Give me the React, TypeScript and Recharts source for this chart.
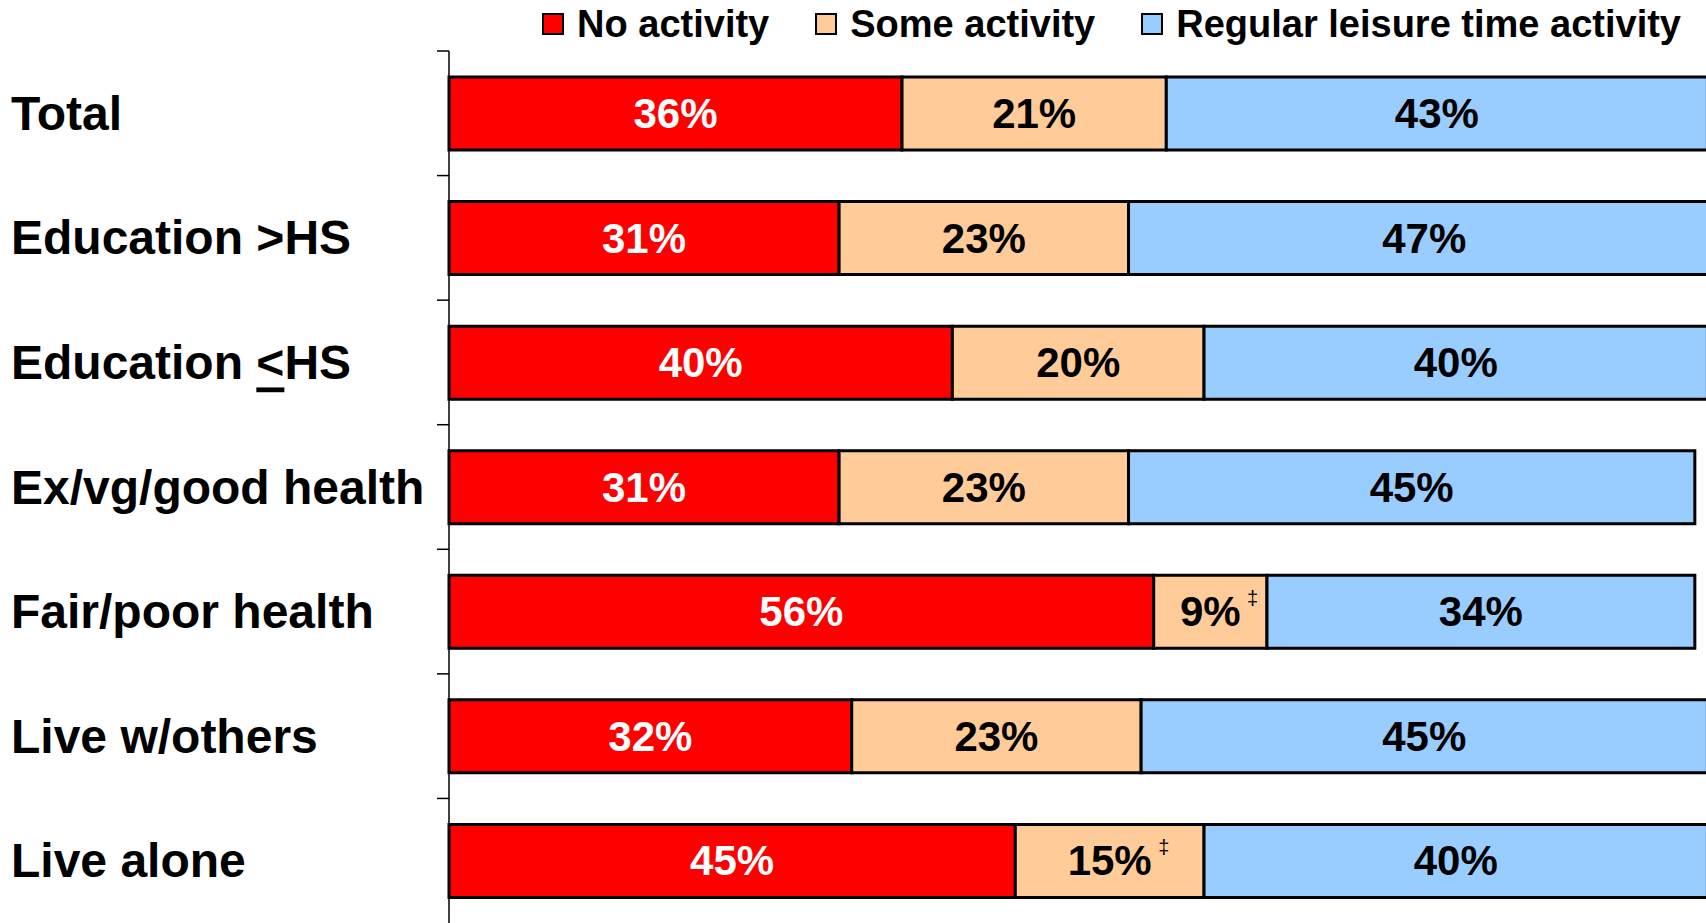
import React from "react"
import { BarChart, Bar, XAxis, YAxis, Legend, LabelList } from "recharts"

const categories = [
  "Total",
  "Education >HS",
  "Education ≤HS",
  "Ex/vg/good health",
  "Fair/poor health",
  "Live w/others",
  "Live alone",
]
const noActivity = [36, 31, 40, 31, 56, 32, 45]
const someActivity = [21, 23, 20, 23, 9, 23, 15]
const regularActivity = [43, 47, 40, 45, 34, 45, 40]
const someNotes = ["", "", "", "", "‡", "", "‡"]

const seriesNames = ["No activity", "Some activity", "Regular leisure time activity"]
const seriesKeys = ["none", "some", "regular"]
const colors = ["#FF0000", "#FFCC99", "#99CCFF"]
const labelColors = ["#FFFFFF", "#000000", "#000000"]

const data = categories.map((name, i) => ({
  name,
  none: noActivity[i],
  some: someActivity[i],
  regular: regularActivity[i],
}))

const FONT = "'Liberation Sans', Arial, Helvetica, sans-serif"
const CHART_H = 923
const LEGEND_H = 51
const AXIS_X = 449
const BAND = (CHART_H - LEGEND_H) / categories.length

// label at the band centre, tick mark at the band's upper boundary
const RowTick = (props: any) => {
  const { y, payload } = props
  const label: string = payload.value
  const parts = label.split("≤")
  const top = y - BAND / 2
  return (
    <g>
      <line x1={AXIS_X - 12} x2={AXIS_X} y1={top} y2={top} stroke="#000" strokeWidth={1.5} />
      <text x={11} y={y} dominantBaseline="central" fontSize={48} fontWeight={700} fontFamily={FONT} fill="#000">
        {parts.length > 1 ? (
          <>
            {parts[0]}
            <tspan style={{ textDecoration: "underline" }}>{"<"}</tspan>
            {parts[1]}
          </>
        ) : (
          label
        )}
      </text>
    </g>
  )
}

const makeLabel = (color: string, notes?: string[]) => (props: any) => {
  const vb = props.viewBox && props.viewBox.width != null ? props.viewBox : props
  const { x, y, width, height } = vb
  const cx = x + width / 2
  const cy = y + height / 2
  const text = `${props.value}%`
  const note = notes ? notes[props.index] : ""
  const textW = (String(props.value).length * 0.556 + 0.889) * 42
  return (
    <g>
      <text x={cx} y={cy} textAnchor="middle" dominantBaseline="central" fill={color} fontSize={42} fontWeight={700} fontFamily={FONT}>
        {text}
      </text>
      {note ? (
        <text x={cx + textW / 2 + 12} y={cy - 14} textAnchor="middle" dominantBaseline="central" fill="#000" fontSize={20} fontFamily={FONT}>
          {note}
        </text>
      ) : null}
    </g>
  )
}

const LegendContent = () => (
  <div
    style={{
      display: "flex",
      justifyContent: "flex-end",
      alignItems: "center",
      width: 1706,
      height: 48,
      paddingRight: 25,
      boxSizing: "border-box",
      fontFamily: FONT,
    }}
  >
    {seriesNames.map((n, i) => (
      <div key={n} style={{ display: "flex", alignItems: "center", marginLeft: i ? 46 : 0 }}>
        <span
          style={{
            display: "inline-block",
            width: 18,
            height: 18,
            border: "2px solid #000",
            background: colors[i],
            marginRight: 13,
          }}
        />
        <span style={{ fontSize: 38, fontWeight: 700, color: "#000", lineHeight: "40px" }}>{n}</span>
      </div>
    ))}
  </div>
)

export default function App() {
  return (
    <div
      style={{
        position: "absolute",
        left: 0,
        top: 0,
        width: 1706,
        height: CHART_H,
        overflow: "hidden",
        background: "#fff",
        fontFamily: FONT,
      }}
    >
      <BarChart
        width={1720}
        height={CHART_H}
        data={data}
        layout="vertical"
        margin={{ top: 0, right: 0, bottom: 0, left: 0 }}
        barSize={73}
      >
        <XAxis type="number" domain={[0, "dataMax"]} hide />
        <YAxis
          type="category"
          dataKey="name"
          width={AXIS_X}
          interval={0}
          tickLine={false}
          axisLine={{ stroke: "#000", strokeWidth: 1.5 }}
          tick={<RowTick />}
        />
        <Legend
          verticalAlign="top"
          height={LEGEND_H}
          content={<LegendContent />}
          wrapperStyle={{ left: 0, top: 0, width: 1706, height: LEGEND_H }}
        />
        {seriesKeys.map((k, i) => (
          <Bar
            key={k}
            dataKey={k}
            name={seriesNames[i]}
            stackId="a"
            fill={colors[i]}
            stroke="#000"
            strokeWidth={3}
            isAnimationActive={false}
          >
            <LabelList dataKey={k} content={makeLabel(labelColors[i], k === "some" ? someNotes : undefined)} />
          </Bar>
        ))}
      </BarChart>
    </div>
  )
}
